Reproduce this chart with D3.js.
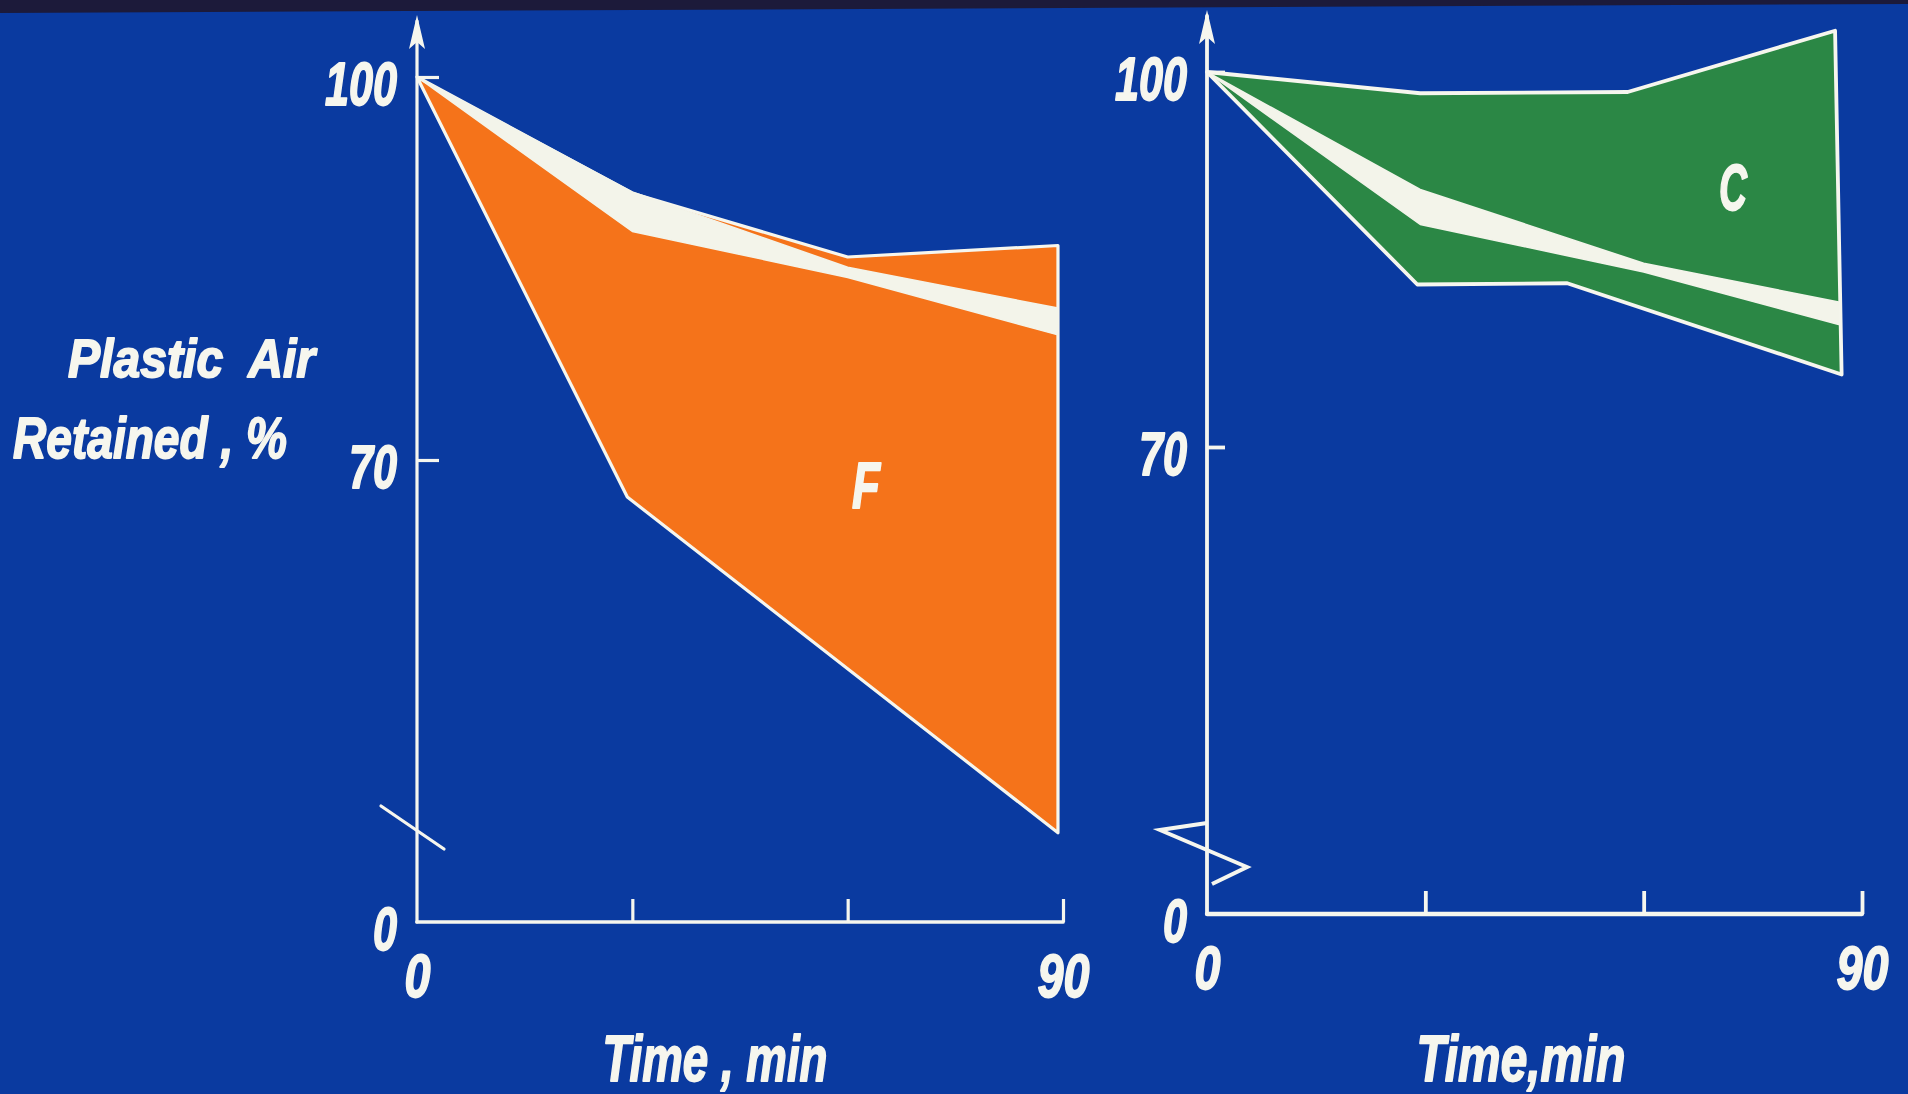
<!DOCTYPE html>
<html><head><meta charset="utf-8">
<script src="https://cdn.jsdelivr.net/npm/d3@7/dist/d3.min.js"></script>
<style>
html,body{margin:0;padding:0;background:#0a3aa0;overflow:hidden}
svg text{font-family:"Liberation Sans Narrow","Liberation Sans",Arial,sans-serif;font-weight:bold;font-style:italic;fill:#f6f6ee;stroke:#f6f6ee;stroke-width:1.8px;stroke-linejoin:round}
</style></head><body>
<svg id="chart" width="1908" height="1094"></svg>
<script>
// ---------------- data ----------------
const timeTicks = [0, 30, 60, 90];
const timeLabels = [0, 90];
const yTickValues = [0, 70, 100];
const yTitleLines = ["Plastic  Air", "Retained , %"];
const xTitleF = "Time , min";
const xTitleC = "Time,min";
const panelLabels = ["F", "C"];

// Panel F (orange): envelope and white mean band
const fUpperT = [0, 30, 60, 89.3];
const fUpperV = [100, 90.9, 85.9, 86.8];
const fLowerT = [0, 29.3, 89.3];
const fLowerV = [100, 67.1, 40.8];
const fMeanT  = [0, 30, 60, 89.3];
const fMeanHi = [100, 91.0, 85.1, 81.9];
const fMeanLo = [100, 87.9, 84.3, 79.8];

// Panel C (green): envelope and white mean band
const cUpperT = [0, 29.3, 57.8, 86.3];
const cUpperV = [100, 98.3, 98.4, 103.3];
const cLowerT = [0, 28.9, 49.5, 87.2];
const cLowerV = [100, 83.0, 83.1, 75.8];
const cMeanT  = [0, 29.3, 60, 86.8];
const cMeanHi = [100, 90.6, 84.7, 81.6];
const cMeanLo = [100, 87.8, 84.0, 79.8];

// ---------------- layout ----------------
const BG = "#0a3aa0", WHITE = "#f6f6ee";
const panels = [
  {label: panelLabels[0], fill: "#f5731a", x0: 417, x90: 1063, y0: 922, y70: 460, y100: 77,
   upT: fUpperT, upV: fUpperV, loT: fLowerT, loV: fLowerV, mT: fMeanT, mHi: fMeanHi, mLo: fMeanLo,
   xTitle: xTitleF, xTitleX: 715, xTitleLen: 225, labelPos: [866, 508], tickLen: 22, sw: 3.2,
   brk: "slash"},
  {label: panelLabels[1], fill: "#2b8745", x0: 1207, x90: 1862, y0: 914, y70: 447, y100: 72,
   upT: cUpperT, upV: cUpperV, loT: cLowerT, loV: cLowerV, mT: cMeanT, mHi: cMeanHi, mLo: cMeanLo,
   xTitle: xTitleC, xTitleX: 1521, xTitleLen: 209, labelPos: [1733, 210], tickLen: 18, sw: 3.8,
   brk: "zigzag"}
];

const svg = d3.select("#chart");
svg.append("rect").attr("width", 1908).attr("height", 1094).attr("fill", BG);
// dark film frame edge at top
svg.append("path").attr("d", "M0,0 L1908,0 L1908,4 L0,13 Z").attr("fill", "#1c1a3a");

panels.forEach(p => {
  const g = svg.append("g");
  const x = d3.scaleLinear().domain([0, 90]).range([p.x0, p.x90]);
  const yMain = d3.scaleLinear().domain([70, 100]).range([p.y70, p.y100]);
  const brkV = 36;
  const y = d3.scaleLinear().domain([0, brkV, 100]).range([p.y0, yMain(brkV), p.y100]);

  // envelope polygon
  const up = p.upT.map((t, i) => ({t, v: p.upV[i]}));
  const lo = p.loT.map((t, i) => ({t, v: p.loV[i]}));
  const ring = up.concat(lo.slice(1).reverse());
  const line = d3.line().x(d => x(d.t)).y(d => y(d.v));
  g.append("path").attr("d", line(ring) + "Z")
    .attr("fill", p.fill).attr("stroke", WHITE).attr("stroke-width", p.sw)
    .attr("stroke-linejoin", "round");

  // white mean band
  const band = p.mT.map((t, i) => ({t, hi: p.mHi[i], lo: p.mLo[i]}));
  g.append("path").attr("d", d3.area().x(d => x(d.t)).y0(d => y(d.lo)).y1(d => y(d.hi))(band))
    .attr("fill", "#f3f4ea").attr("stroke", "#f3f4ea").attr("stroke-width", 1.5)
    .attr("stroke-linejoin", "round");

  // panel letter
  g.append("text").attr("x", p.labelPos[0]).attr("y", p.labelPos[1])
    .attr("text-anchor", "middle").attr("font-size", 64)
    .attr("textLength", 28).attr("lengthAdjust", "spacingAndGlyphs").text(p.label);

  // y axis (ticks pointing inwards)
  const yAxis = d3.axisLeft(y).tickValues(yTickValues).tickSize(-p.tickLen).tickPadding(20)
    .tickFormat(d3.format("d"));
  const ya = g.append("g").attr("transform", `translate(${x(0)},0)`).call(yAxis);
  ya.select(".domain").remove();
  ya.attr("font-family", null).attr("font-size", null);
  ya.selectAll(".tick line").attr("stroke", WHITE).attr("stroke-width", p.sw)
    .filter(d => d === 0).remove();
  ya.selectAll(".tick text").attr("font-size", 62).attr("dy", "0.45em").attr("fill", WHITE)
    .each(function(d){ d3.select(this).attr("textLength", String(d).length * 24).attr("lengthAdjust", "spacingAndGlyphs"); });

  // x axis (ticks pointing upwards)
  const xAxis = d3.axisBottom(x).tickValues(timeTicks).tickSize(-23).tickPadding(31)
    .tickFormat(d => timeLabels.includes(d) ? String(d) : "");
  const xa = g.append("g").attr("transform", `translate(0,${y(0)})`).call(xAxis);
  xa.select(".domain").remove();
  xa.attr("font-family", null).attr("font-size", null);
  xa.selectAll(".tick line").attr("stroke", WHITE).attr("stroke-width", p.sw)
    .filter(d => d === 0).remove();
  xa.selectAll(".tick text").attr("font-size", 62).attr("fill", WHITE)
    .each(function(d){ const s = timeLabels.includes(d) ? String(d) : ""; if (s) d3.select(this).attr("textLength", s.length * 26).attr("lengthAdjust", "spacingAndGlyphs"); });

  // axis lines
  const tipY = y(100) - 62;
  g.append("line").attr("x1", x(0)).attr("x2", x(90)).attr("y1", y(0)).attr("y2", y(0))
    .attr("stroke", WHITE).attr("stroke-width", p.sw + 0.5).attr("stroke-linecap", "round");
  g.append("line").attr("x1", x(0)).attr("x2", x(0)).attr("y1", y(0)).attr("y2", tipY + 6)
    .attr("stroke", WHITE).attr("stroke-width", p.sw).attr("stroke-linecap", "round");
  g.append("path")
    .attr("d", `M${x(0)},${tipY} L${x(0) - 8},${tipY + 34} L${x(0)},${tipY + 27} L${x(0) + 8},${tipY + 34} Z`)
    .attr("fill", WHITE);

  // axis break symbol
  const ax = x(0);
  if (p.brk === "slash") {
    g.append("line").attr("x1", ax - 36).attr("y1", 806).attr("x2", ax + 27).attr("y2", 849)
      .attr("stroke", WHITE).attr("stroke-width", 3.2).attr("stroke-linecap", "round");
  } else {
    g.append("path").attr("d", `M${ax},823 L${ax - 47},830 L${ax + 40},867 L${ax + 5},884`)
      .attr("fill", "none").attr("stroke", WHITE).attr("stroke-width", 4)
      .attr("stroke-linejoin", "miter");
  }

  // x title
  g.append("text").attr("x", p.xTitleX).attr("y", 1081).attr("text-anchor", "middle")
    .attr("font-size", 64).attr("textLength", p.xTitleLen).attr("lengthAdjust", "spacingAndGlyphs")
    .text(p.xTitle);
});

// y title (left)
svg.append("text").attr("x", 68).attr("y", 377).attr("font-size", 54)
  .attr("textLength", 247).attr("lengthAdjust", "spacingAndGlyphs").style("white-space", "pre")
  .text(yTitleLines[0]);
svg.append("text").attr("x", 13).attr("y", 458).attr("font-size", 58)
  .attr("textLength", 274).attr("lengthAdjust", "spacingAndGlyphs").style("white-space", "pre")
  .text(yTitleLines[1]);
</script>
</body></html>
